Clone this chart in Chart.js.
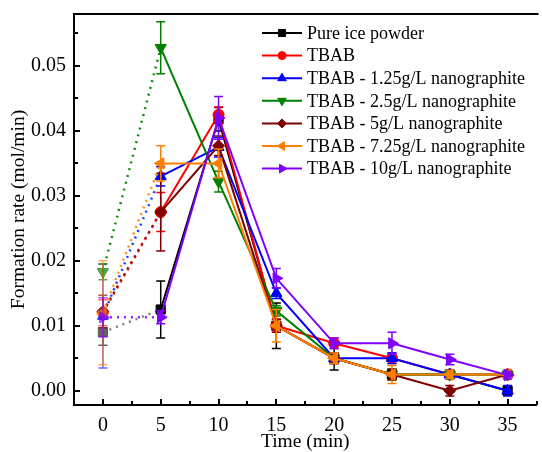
<!DOCTYPE html>
<html><head><meta charset="utf-8">
<script src="https://cdn.jsdelivr.net/npm/chart.js@4.4.1/dist/chart.umd.min.js"></script>
<style>html,body{margin:0;padding:0;overflow:hidden;background:#fff;}#wrap{width:544px;height:452px;}</style>
</head><body><div id="wrap"><canvas id="c" width="544" height="452"></canvas></div>
<script>
// ---- data ----
const times = [0, 5, 10, 15, 20, 25, 30, 35];
const seriesNames = ['Pure ice powder', 'TBAB', 'TBAB - 1.25g/L nanographite', 'TBAB - 2.5g/L nanographite',
  'TBAB - 5g/L nanographite', 'TBAB - 7.25g/L nanographite', 'TBAB - 10g/L nanographite'];
const pureIce      = [0.0090, 0.0125, 0.0418, 0.0100, 0.0050, 0.0025, 0.0025, 0.0000];
const pureIceErr   = [0.0020, 0.0044, 0.0018, 0.0035, 0.0018, 0.0008, 0.0005, 0.0005];
const tbab         = [0.0120, 0.0275, 0.0425, 0.0100, 0.0073, 0.0050, 0.0025, 0.0025];
const tbabErr      = [0.0020, 0.0030, 0.0012, 0.0010, 0.0008, 0.0008, 0.0006, 0.0006];
const ng125        = [0.0115, 0.0330, 0.0375, 0.0150, 0.0050, 0.0050, 0.0025, 0.0000];
const ng125Err     = [0.0080, 0.0015, 0.0015, 0.0008, 0.0008, 0.0008, 0.0005, 0.0008];
const ng25         = [0.0183, 0.0528, 0.0322, 0.0123, 0.0050, 0.0025, 0.0025, 0.0025];
const ng25Err      = [0.0012, 0.0040, 0.0016, 0.0008, 0.0008, 0.0008, 0.0006, 0.0006];
const ng5          = [0.0122, 0.0275, 0.0377, 0.0100, 0.0050, 0.0025, 0.0000, 0.0025];
const ng5Err       = [0.0025, 0.0060, 0.0015, 0.0010, 0.0008, 0.0008, 0.0008, 0.0006];
const ng725        = [0.0120, 0.0350, 0.0350, 0.0100, 0.0050, 0.0025, 0.0025, 0.0025];
const ng725Err     = [0.0080, 0.0027, 0.0022, 0.0025, 0.0008, 0.0014, 0.0006, 0.0006];
const ng10         = [0.0113, 0.0113, 0.0420, 0.0173, 0.0073, 0.0073, 0.0048, 0.0024];
const ng10Err      = [0.0030, 0.0010, 0.0033, 0.0015, 0.0008, 0.0017, 0.0008, 0.0006];
const xTickValues = [0, 5, 10, 15, 20, 25, 30, 35];
const yTickValues = [0.00, 0.01, 0.02, 0.03, 0.04, 0.05];

// ---- styles ----
const FONT = "'Liberation Serif','Times New Roman',serif";
const seriesValues = [pureIce, tbab, ng125, ng25, ng5, ng725, ng10];
const seriesErrors = [pureIceErr, tbabErr, ng125Err, ng25Err, ng5Err, ng725Err, ng10Err];
const colors = ['#000000', '#FF0000', '#0000FF', '#008000', '#800000', '#FF8000', '#8000FF'];
const dotColors = ['#808080', '#FF3030', '#2040FF', '#109010', '#901010', '#FF9020', '#9020FF'];
const firstColors = ['#606060', 'rgba(255,0,0,0.6)', 'rgba(0,0,255,0.6)', 'rgba(0,128,0,0.65)', 'rgba(128,0,0,0.65)', 'rgba(255,128,0,0.65)', 'rgba(128,0,255,0.65)'];
const shapes = ['rect', 'circle', 'triangle', 'triangle', 'rectRot', 'triangle', 'triangle'];
const rotations = [0, 0, 0, 180, 0, 270, 90];
const radii = [6.5, 5.5, 6.5, 6.5, 6, 6.5, 6.5];

const datasets = seriesNames.map((name, i) => ({
  label: name,
  data: times.map((t, j) => ({x: t, y: seriesValues[i][j]})),
  borderColor: colors[i],
  backgroundColor: colors[i],
  borderWidth: 2,
  pointStyle: shapes[i],
  rotation: rotations[i],
  pointRadius: radii[i],
  pointBorderWidth: 1,
  pointBackgroundColor: times.map((t, j) => j === 0 ? firstColors[i] : colors[i]),
  pointBorderColor: times.map((t, j) => j === 0 ? firstColors[i] : colors[i]),
  order: 6 - i,
  segment: {
    borderDash: ctx => ctx.p0DataIndex === 0 ? [2, 5] : undefined,
    borderColor: ctx => ctx.p0DataIndex === 0 ? dotColors[i] : undefined,
    borderWidth: ctx => ctx.p0DataIndex === 0 ? 2.5 : undefined
  }
}));

function drawMarker(ctx, style, rot, x, y, r, color) {
  ctx.save();
  ctx.fillStyle = color; ctx.strokeStyle = color; ctx.lineWidth = 1;
  ctx.beginPath();
  if (style === 'circle') {
    ctx.arc(x, y, r, 0, Math.PI * 2);
  } else if (style === 'rect') {
    const s = r * Math.SQRT1_2; ctx.rect(x - s, y - s, 2 * s, 2 * s);
  } else if (style === 'rectRot') {
    ctx.moveTo(x, y - r); ctx.lineTo(x + r, y); ctx.lineTo(x, y + r); ctx.lineTo(x - r, y);
  } else {
    let a = rot * Math.PI / 180;
    ctx.moveTo(x + Math.sin(a) * r, y - Math.cos(a) * r);
    a += 2 * Math.PI / 3; ctx.lineTo(x + Math.sin(a) * r, y - Math.cos(a) * r);
    a += 2 * Math.PI / 3; ctx.lineTo(x + Math.sin(a) * r, y - Math.cos(a) * r);
  }
  ctx.closePath(); ctx.fill(); ctx.stroke();
  ctx.restore();
}

const decor = {
  id: 'decor',
  beforeDatasetDraw(chart, args) {
    const i = args.index;
    const {ctx, scales: {x, y}} = chart;
    ctx.save();
    ctx.lineWidth = 1.5;
    times.forEach((t, j) => {
      const e = seriesErrors[i][j];
      const v = seriesValues[i][j];
      const px = x.getPixelForValue(t);
      const pt = y.getPixelForValue(v + e), pb = y.getPixelForValue(v - e);
      ctx.strokeStyle = j === 0 ? firstColors[i] : colors[i];
      ctx.beginPath();
      ctx.moveTo(px, pt); ctx.lineTo(px, pb);
      ctx.moveTo(px - 4.5, pt); ctx.lineTo(px + 4.5, pt);
      ctx.moveTo(px - 4.5, pb); ctx.lineTo(px + 4.5, pb);
      ctx.stroke();
    });
    ctx.restore();
  },
  afterDraw(chart) {
    const {ctx, chartArea: a, scales: {x, y}} = chart;
    ctx.save();
    ctx.strokeStyle = '#000';
    ctx.lineWidth = 2;
    // top frame
    ctx.beginPath(); ctx.moveTo(a.left - 1, a.top); ctx.lineTo(a.right + 2, a.top); ctx.stroke();
    // inward ticks
    ctx.beginPath();
    const yStep = yTickValues[1] - yTickValues[0];
    yTickValues.forEach(v => {
      const p = Math.round(y.getPixelForValue(v));
      ctx.moveTo(a.left, p); ctx.lineTo(a.left + 6, p);
      const pm = Math.round(y.getPixelForValue(v + yStep / 2));
      ctx.moveTo(a.left, pm); ctx.lineTo(a.left + 4, pm);
    });
    const xStep = xTickValues[1] - xTickValues[0];
    xTickValues.forEach(v => {
      const p = Math.round(x.getPixelForValue(v));
      ctx.moveTo(p, a.bottom); ctx.lineTo(p, a.bottom - 6);
      const pm = Math.round(x.getPixelForValue(v + xStep / 2));
      ctx.moveTo(pm, a.bottom); ctx.lineTo(pm, a.bottom - 4);
    });
    ctx.stroke();
    // legend
    const lx = 262, ly = 33, step = 22.6;
    ctx.font = '18px ' + FONT;
    ctx.textBaseline = 'middle';
    ctx.textAlign = 'left';
    seriesNames.forEach((name, i) => {
      const yy = ly + i * step;
      ctx.strokeStyle = colors[i]; ctx.lineWidth = 2;
      ctx.beginPath(); ctx.moveTo(lx, yy); ctx.lineTo(lx + 40, yy); ctx.stroke();
      drawMarker(ctx, shapes[i], rotations[i], lx + 20, yy, radii[i] - 1.5, colors[i]);
      ctx.fillStyle = '#000';
      ctx.fillText(name, lx + 45, yy + 1);
    });
    ctx.restore();
  }
};

new Chart(document.getElementById('c'), {
  type: 'line',
  data: {datasets},
  plugins: [decor],
  options: {
    responsive: false, animation: false, devicePixelRatio: 1,
    layout: {padding: {top: 14, right: 1, left: 0, bottom: 0}},
    plugins: {legend: {display: false}, tooltip: {enabled: false}},
    scales: {
      x: {
        type: 'linear', min: -2.5, max: 37.5,
        afterBuildTicks: s => { s.ticks = xTickValues.map(v => ({value: v})); },
        afterFit: s => { s.height = 47; s.paddingLeft = 0; s.paddingRight = 0; },
        grid: {display: false, drawTicks: false},
        border: {display: true, width: 2, color: '#000'},
        ticks: {font: {family: FONT, size: 20}, color: '#000', padding: 9, maxRotation: 0, autoSkip: false},
        title: {display: true, text: 'Time (min)', color: '#000', font: {family: FONT, size: 19.5, lineHeight: 1}, padding: {top: 0, bottom: 0}}
      },
      y: {
        type: 'linear', min: -0.0022, max: 0.058,
        afterBuildTicks: s => { s.ticks = yTickValues.map(v => ({value: v})); },
        afterFit: s => { s.width = 74; s.paddingTop = 0; s.paddingBottom = 0; },
        grid: {display: false, drawTicks: false},
        border: {display: true, width: 2, color: '#000'},
        ticks: {font: {family: FONT, size: 20}, color: '#000', padding: 8, callback: v => Number(v).toFixed(2)},
        title: {display: true, text: 'Formation rate (mol/min)', color: '#000', font: {family: FONT, size: 19.5, lineHeight: 1}, padding: {top: 9, bottom: 0}}
      }
    }
  }
});
</script></body></html>
